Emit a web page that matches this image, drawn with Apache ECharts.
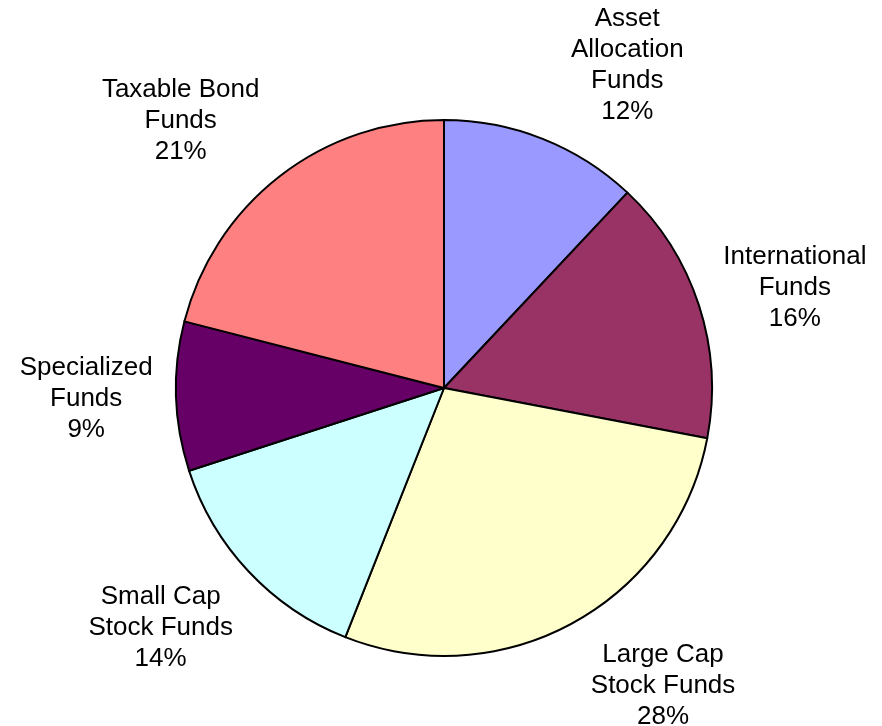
<!DOCTYPE html>
<html>
<head>
<meta charset="utf-8">
<script src="https://cdn.jsdelivr.net/npm/echarts@6/dist/echarts.min.js"></script>
<style>
  html, body { margin: 0; padding: 0; background: #fff; }
  #chart { width: 882px; height: 726px; }
</style>
</head>
<body>
<div id="chart"></div>
<script>
// Fund categories, clockwise from 12 o'clock
const categories = [
  'Asset\nAllocation\nFunds',
  'International\nFunds',
  'Large Cap\nStock Funds',
  'Small Cap\nStock Funds',
  'Specialized\nFunds',
  'Taxable Bond\nFunds'
];
// Share of assets, percent
const shares = [12, 16, 28, 14, 9, 21];
const sliceColors = ['#9999FF', '#993366', '#FFFFCC', '#CCFFFF', '#660066', '#FF8080'];

// Pie geometry
const cx = 444, cy = 388, radius = 268;
// label offsets from the centre: angular nudge (degrees) and radial distance (px)
const labelNudge = [8, 2, -7.5, 3, 0, -6.8];
const labelDist = [371, 365, 370, 371, 358, 375];

const total = shares.reduce((a, b) => a + b, 0);
const midAngles = [];
let acc = 0;
shares.forEach(v => { midAngles.push((acc + v / 2) / total * 360); acc += v; });

const chart = echarts.init(document.getElementById('chart'));
chart.setOption({
  animation: false,
  backgroundColor: '#ffffff',
  series: [{
    type: 'pie',
    center: [cx, cy],
    radius: radius,
    startAngle: 90,
    clockwise: true,
    avoidLabelOverlap: false,
    data: categories.map((name, i) => ({
      name: name,
      value: shares[i],
      itemStyle: { color: sliceColors[i] }
    })),
    itemStyle: { borderColor: '#000', borderWidth: 2 },
    emphasis: { disabled: true },
    label: {
      show: true,
      position: 'outside',
      formatter: p => p.name + '\n' + p.value + '%',
      fontFamily: 'Liberation Sans, Arial, sans-serif',
      fontSize: 26,
      lineHeight: 31,
      color: '#000',
      align: 'center'
    },
    labelLine: { show: false },
    labelLayout: function (p) {
      const i = p.dataIndex;
      const a = (midAngles[i] + labelNudge[i]) * Math.PI / 180;
      return {
        x: cx + labelDist[i] * Math.sin(a),
        y: cy - labelDist[i] * Math.cos(a),
        align: 'center',
        verticalAlign: 'middle'
      };
    }
  }]
});
</script>
</body>
</html>
